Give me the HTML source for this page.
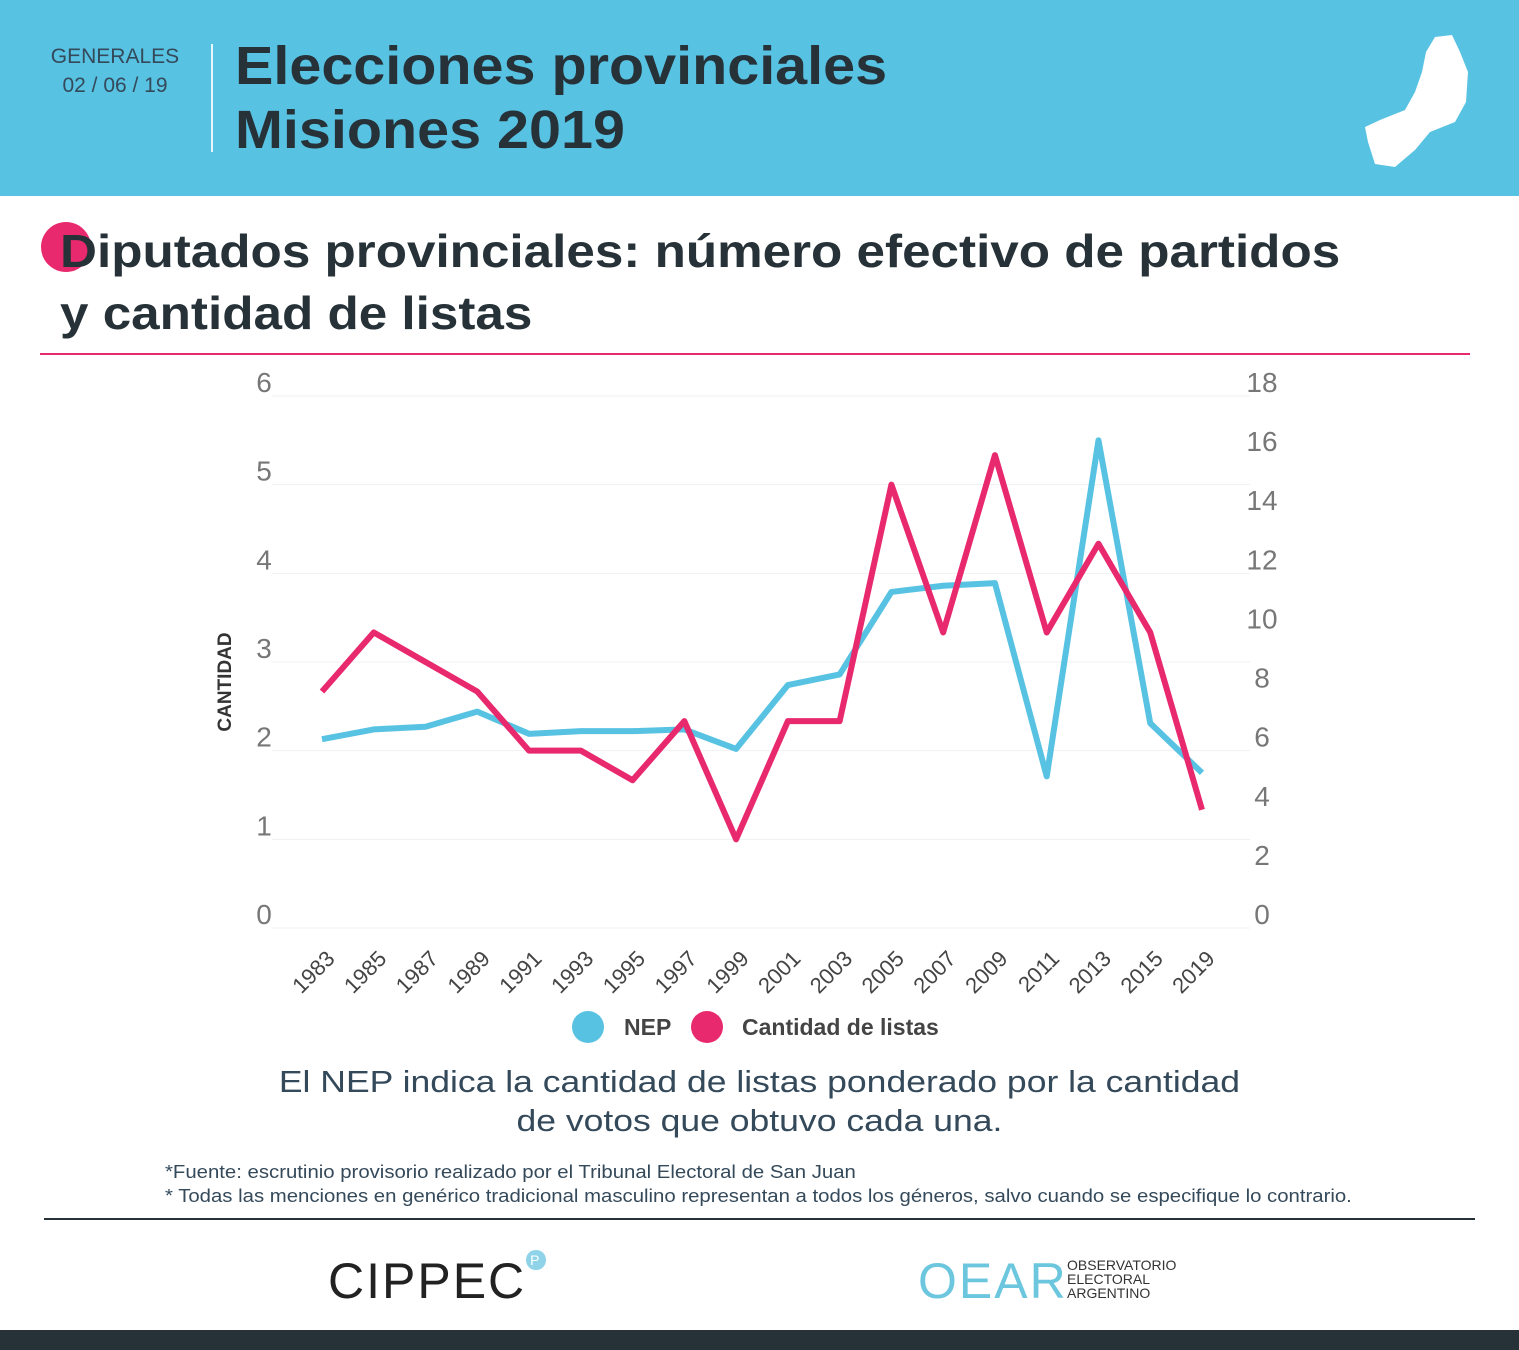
<!DOCTYPE html>
<html><head><meta charset="utf-8">
<style>
body{margin:0;width:1519px;height:1350px;position:relative;background:#fff;font-family:"Liberation Sans",sans-serif;overflow:hidden;color:#263238}
.abs{position:absolute}
</style></head><body>
<div class="abs" style="left:0;top:0;width:1519px;height:196px;background:#58c2e3"></div>
<div class="abs" style="left:40px;top:42px;width:150px;text-align:center;font-size:21px;color:#34495a;line-height:29px">GENERALES<br>02 / 06 / 19</div>
<div class="abs" style="left:211px;top:44px;width:2px;height:108px;background:#e8f6fb"></div>
<div class="abs" style="left:235px;top:34px;font-size:54px;font-weight:bold;line-height:64px;color:#263238;transform:scaleX(1.065);transform-origin:left top;white-space:nowrap">Elecciones provinciales<br>Misiones 2019</div>
<svg class="abs" style="left:1360px;top:32px" width="115" height="140"><path d="M75 5 L92 3 L100 20 L108 40 L106 70 L95 90 L70 100 L55 118 L35 135 L15 132 L8 110 L5 95 L20 88 L45 78 L55 60 L62 40 L66 20Z" fill="#fff"/></svg>
<div class="abs" style="left:41px;top:222px;width:50px;height:50px;border-radius:50%;background:#e8296e"></div>
<div class="abs" style="left:60px;top:220px;font-size:46px;font-weight:bold;line-height:62px;color:#263238;transform:scaleX(1.113);transform-origin:left top;white-space:nowrap">Diputados provinciales: número efectivo de partidos<br>y cantidad de listas</div>
<div class="abs" style="left:40px;top:353px;width:1430px;height:2px;background:#e8296e"></div>
<svg id="chart" class="abs" style="left:0;top:360px" width="1519" height="700"></svg>
<div class="abs" style="left:0;top:1062px;width:1519px;text-align:center;font-size:31px;line-height:39px;color:#34495a;transform:scaleX(1.146);transform-origin:760px top">El NEP indica la cantidad de listas ponderado por la cantidad<br>de votos que obtuvo cada una.</div>
<div class="abs" style="left:165px;top:1160px;font-size:18px;line-height:24px;color:#34495a;transform:scaleX(1.13);transform-origin:left top;white-space:nowrap">*Fuente: escrutinio provisorio realizado por el Tribunal Electoral de San Juan<br>* Todas las menciones en genérico tradicional masculino representan a todos los géneros, salvo cuando se especifique lo contrario.</div>
<div class="abs" style="left:44px;top:1218px;width:1431px;height:2px;background:#263238"></div>
<div class="abs" style="left:328px;top:1252px;font-size:50px;letter-spacing:2px;color:#222;font-weight:300">CIPPEC<span style="font-size:14px;color:#fff;background:#8fd3e8;border-radius:50%;padding:2px 4px;vertical-align:top">P</span></div>
<div class="abs" style="left:918px;top:1252px;font-size:50px;color:#6cc7de;letter-spacing:2px">OEAR</div>
<div class="abs" style="left:1067px;top:1258px;font-size:14px;line-height:14px;color:#333">OBSERVATORIO<br>ELECTORAL<br>ARGENTINO</div>
<div class="abs" style="left:0;top:1330px;width:1519px;height:20px;background:#263238"></div>
<script>
const years=["1983","1985","1987","1989","1991","1993","1995","1997","1999","2001","2003","2005","2007","2009","2011","2013","2015","2019"];
const nep=[2.13,2.24,2.27,2.44,2.19,2.22,2.22,2.24,2.02,2.74,2.86,3.79,3.86,3.89,1.71,5.5,2.31,1.75];
const listas=[8,10,9,8,6,6,5,7,3,7,7,15,10,16,10,13,10,4];
const leftTicks=[0,1,2,3,4,5,6];
const rightTicks=[0,2,4,6,8,10,12,14,16,18];
const svg=document.getElementById('chart');const NS='http://www.w3.org/2000/svg';
const y0=568,y1=36;
const x=i=>322+i*(1202-322)/(years.length-1);
const yl=v=>y0-(y0-y1)*v/6;
const yr=v=>y0-(y0-y1)*v/18;
function mk(t,a){const e=document.createElementNS(NS,t);for(const k in a)e.setAttribute(k,a[k]);svg.appendChild(e);return e;}
leftTicks.forEach(v=>{
 const g=mk('line',{x1:272,x2:1250,y1:yl(v),y2:yl(v),stroke:'#f1f1f1','stroke-width':1});
 
 
 const t=mk('text',{x:264,y:yl(v)-4,'text-anchor':'middle','font-size':28,fill:'#777'});t.textContent=v;
 
 
});
rightTicks.forEach(v=>{
 const t=mk('text',{x:1262,y:yr(v)-4,'text-anchor':'middle','font-size':28,fill:'#777'});t.textContent=v;
 
 
});
years.forEach((yy,i)=>{
 const t=mk('text',{x:x(i)+14,y:600,'text-anchor':'end','font-size':22,fill:'#444',transform:`rotate(-45 ${x(i)+14} 600)`});t.textContent=yy;
 
 
});
const at=mk('text',{x:231,y:322,'text-anchor':'middle','font-size':19,'font-weight':'bold',fill:'#333',transform:'rotate(-90 231 322)'});at.textContent='CANTIDAD';


const p1=mk('polyline',{points:nep.map((v,i)=>x(i)+','+yl(v)).join(' '),fill:'none',stroke:'#58c2e3','stroke-width':6,'stroke-linejoin':'round'});


const p2=mk('polyline',{points:listas.map((v,i)=>x(i)+','+yr(v)).join(' '),fill:'none',stroke:'#e8296e','stroke-width':6,'stroke-linejoin':'round'});


const c1=mk('circle',{cx:588,cy:667,r:16,fill:'#58c2e3'});


const l1=mk('text',{x:624,y:675,'font-size':23,'font-weight':'bold',fill:'#444'});l1.textContent='NEP';


const c2=mk('circle',{cx:707,cy:667,r:16,fill:'#e8296e'});


const l2=mk('text',{x:742,y:675,'font-size':23,'font-weight':'bold',fill:'#444'});l2.textContent='Cantidad de listas';


</script>
</body></html>
